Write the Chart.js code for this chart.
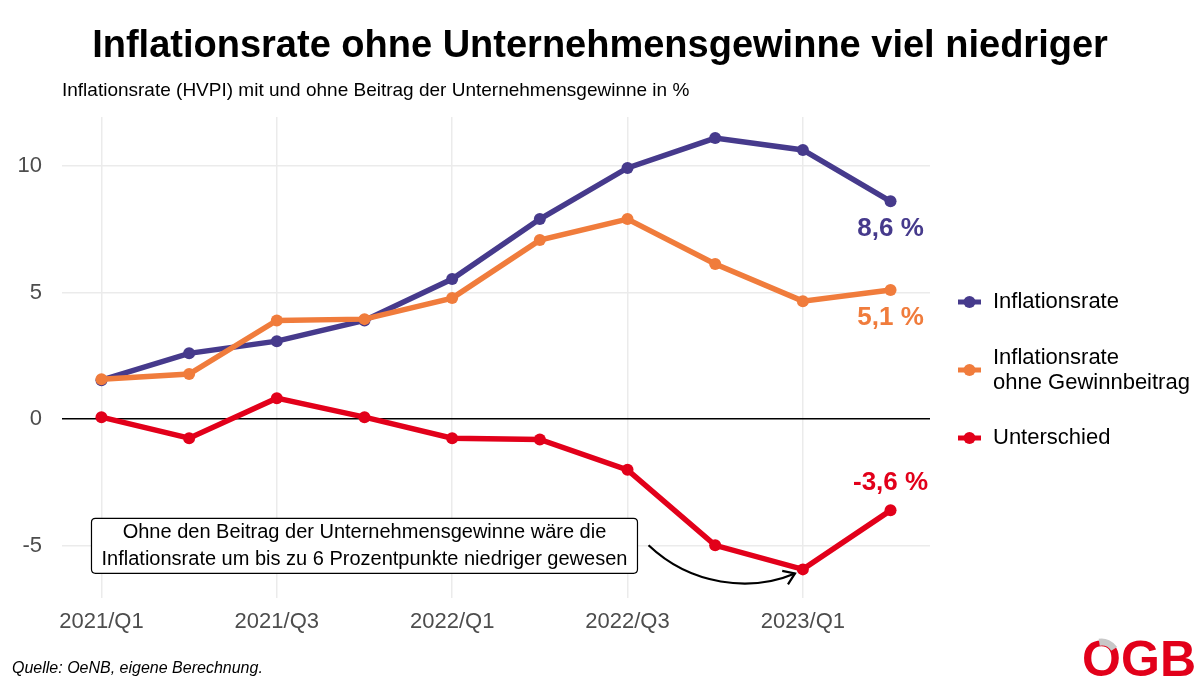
<!DOCTYPE html>
<html>
<head>
<meta charset="utf-8">
<script src="https://cdn.jsdelivr.net/npm/chart.js@4.4.1/dist/chart.umd.min.js"></script>
<style>
  html, body { margin: 0; padding: 0; background: #fff; }
  #wrap { width: 1200px; height: 686px; position: relative; }
</style>
</head>
<body>
<div id="wrap"><canvas id="chart" width="1200" height="686"></canvas></div>
<script>
// Daten
const quarters = ['2021/Q1', '2021/Q2', '2021/Q3', '2021/Q4', '2022/Q1', '2022/Q2', '2022/Q3', '2022/Q4', '2023/Q1', '2023/Q2'];
const inflation = [1.54, 2.6, 3.08, 3.9, 5.53, 7.9, 9.92, 11.1, 10.63, 8.6];
const ohneGewinn = [1.58, 1.78, 3.9, 3.95, 4.78, 7.07, 7.9, 6.13, 4.66, 5.1];
const unterschied = [0.08, -0.75, 0.83, 0.08, -0.75, -0.8, -2.0, -4.98, -5.93, -3.6];
const yTicks = [-5, 0, 5, 10];
const xTicks = [1, 3, 5, 7, 9];

const seriesNames = ['Inflationsrate', ['Inflationsrate', 'ohne Gewinnbeitrag'], 'Unterschied'];
const colors = ['#463a8c', '#f07c3c', '#e2001a'];

const FONT = '"Liberation Sans", Arial, sans-serif';

function toXY(arr) {
  return arr.map((v, i) => ({ x: i + 1, y: v }));
}

function fmt(v) {
  return v.toFixed(1).replace('.', ',') + ' %';
}

function roundRect(ctx, x, y, w, h, r) {
  ctx.beginPath();
  ctx.moveTo(x + r, y);
  ctx.lineTo(x + w - r, y);
  ctx.quadraticCurveTo(x + w, y, x + w, y + r);
  ctx.lineTo(x + w, y + h - r);
  ctx.quadraticCurveTo(x + w, y + h, x + w - r, y + h);
  ctx.lineTo(x + r, y + h);
  ctx.quadraticCurveTo(x, y + h, x, y + h - r);
  ctx.lineTo(x, y + r);
  ctx.quadraticCurveTo(x, y, x + r, y);
  ctx.closePath();
}

// Titel, Legende, Beschriftungen, Pfeil, Logo
const extras = {
  id: 'extras',
  afterDraw(chart) {
    const ctx = chart.ctx;
    const xs = chart.scales.x, ys = chart.scales.y;
    ctx.save();

    // Titel
    ctx.fillStyle = '#000';
    ctx.font = 'bold 38px ' + FONT;
    ctx.textAlign = 'center';
    ctx.textBaseline = 'alphabetic';
    ctx.fillText('Inflationsrate ohne Unternehmensgewinne viel niedriger', 600, 57);

    // Untertitel
    ctx.font = '19px ' + FONT;
    ctx.textAlign = 'left';
    ctx.fillText('Inflationsrate (HVPI) mit und ohne Beitrag der Unternehmensgewinne in %', 62, 96);

    // Quelle
    ctx.font = 'italic 16px ' + FONT;
    ctx.fillText('Quelle: OeNB, eigene Berechnung.', 12, 673);

    // Endwerte
    const last = quarters.length;
    const lx = xs.getPixelForValue(last);
    ctx.font = 'bold 26px ' + FONT;
    ctx.textAlign = 'center';
    ctx.textBaseline = 'middle';
    ctx.fillStyle = colors[0];
    ctx.fillText(fmt(inflation[last - 1]), lx, ys.getPixelForValue(inflation[last - 1] - 1.1));
    ctx.fillStyle = colors[1];
    ctx.fillText(fmt(ohneGewinn[last - 1]), lx, ys.getPixelForValue(ohneGewinn[last - 1] - 1.1));
    ctx.fillStyle = colors[2];
    ctx.fillText(fmt(unterschied[last - 1]), lx, ys.getPixelForValue(unterschied[last - 1] + 1.1));

    // Anmerkungsbox
    const bx = xs.getPixelForValue(4), by = ys.getPixelForValue(-5);
    const bw = 546, bh = 55;
    roundRect(ctx, bx - bw / 2, by - bh / 2, bw, bh, 4);
    ctx.fillStyle = '#fff';
    ctx.fill();
    ctx.lineWidth = 1.2;
    ctx.strokeStyle = '#000';
    ctx.stroke();
    ctx.fillStyle = '#000';
    ctx.font = '20px ' + FONT;
    ctx.fillText('Ohne den Beitrag der Unternehmensgewinne wäre die', bx, by - 13);
    ctx.fillText('Inflationsrate um bis zu 6 Prozentpunkte niedriger gewesen', bx, by + 14);

    // Pfeil
    const p0 = [xs.getPixelForValue(7.24), ys.getPixelForValue(-4.98)];
    const c1 = [xs.getPixelForValue(7.72), ys.getPixelForValue(-6.56)];
    const c2 = [xs.getPixelForValue(8.4), ys.getPixelForValue(-6.84)];
    const p3 = [xs.getPixelForValue(8.91), ys.getPixelForValue(-6.09)];
    ctx.beginPath();
    ctx.moveTo(p0[0], p0[1]);
    ctx.bezierCurveTo(c1[0], c1[1], c2[0], c2[1], p3[0], p3[1]);
    ctx.lineWidth = 2.2;
    ctx.stroke();
    const ang = Math.atan2(p3[1] - c2[1], p3[0] - c2[0]) + Math.PI;
    ctx.beginPath();
    ctx.moveTo(p3[0] + 13 * Math.cos(ang - 0.6), p3[1] + 13 * Math.sin(ang - 0.6));
    ctx.lineTo(p3[0], p3[1]);
    ctx.lineTo(p3[0] + 13 * Math.cos(ang + 0.6), p3[1] + 13 * Math.sin(ang + 0.6));
    ctx.stroke();

    // Legende
    const legendY = [302, 370, 438];
    ctx.font = '22px ' + FONT;
    ctx.textAlign = 'left';
    ctx.textBaseline = 'middle';
    seriesNames.forEach((name, i) => {
      const y = legendY[i];
      ctx.strokeStyle = colors[i];
      ctx.lineWidth = 5;
      ctx.beginPath();
      ctx.moveTo(958, y);
      ctx.lineTo(981, y);
      ctx.stroke();
      ctx.fillStyle = colors[i];
      ctx.beginPath();
      ctx.arc(969.5, y, 6, 0, Math.PI * 2);
      ctx.fill();
      ctx.fillStyle = '#000';
      if (Array.isArray(name)) {
        ctx.fillText(name[0], 993, y - 12);
        ctx.fillText(name[1], 993, y + 13);
      } else {
        ctx.fillText(name, 993, y);
      }
    });

    // Logo
    ctx.font = 'bold 50px ' + FONT;
    ctx.textAlign = 'right';
    ctx.textBaseline = 'alphabetic';
    ctx.fillStyle = '#e2001a';
    ctx.fillText('OGB', 1196, 676);
    const ow = ctx.measureText('OGB').width - ctx.measureText('GB').width;
    const ocx = 1196 - ctx.measureText('GB').width - ow / 2;
    ctx.strokeStyle = '#c8c8c8';
    ctx.lineWidth = 7;
    ctx.beginPath();
    ctx.arc(ocx, 657, 15, -Math.PI * 0.55, -Math.PI * 0.18);
    ctx.stroke();

    ctx.restore();
  }
};

new Chart(document.getElementById('chart'), {
  type: 'line',
  data: {
    labels: quarters,
    datasets: [
      { label: 'Inflationsrate ohne Gewinnbeitrag', data: toXY(ohneGewinn), borderColor: colors[1], backgroundColor: colors[1], order: 0 },
      { label: 'Inflationsrate', data: toXY(inflation), borderColor: colors[0], backgroundColor: colors[0], order: 1 },
      { label: 'Unterschied', data: toXY(unterschied), borderColor: colors[2], backgroundColor: colors[2], order: 2 },
    ].map(d => Object.assign(d, { borderWidth: 5.5, pointRadius: 6, pointHoverRadius: 6, pointBorderWidth: 0, tension: 0, fill: false }))
  },
  options: {
    responsive: false,
    animation: false,
    devicePixelRatio: 1,
    layout: { padding: { top: 117, right: 270, bottom: 48, left: 0 } },
    plugins: { legend: { display: false }, title: { display: false }, tooltip: { enabled: false } },
    scales: {
      x: {
        type: 'linear', min: 0.55, max: 10.45,
        afterBuildTicks: s => { s.ticks = xTicks.map(v => ({ value: v })); },
        afterFit: s => { s.height = 40; },
        ticks: { callback: v => quarters[v - 1], font: { size: 22, family: FONT }, color: '#4d4d4d', padding: 11, maxRotation: 0, autoSkip: false },
        grid: { color: '#ebebeb', lineWidth: 1.5, drawTicks: false },
        border: { display: false }
      },
      y: {
        min: -7.06, max: 11.93,
        afterBuildTicks: s => { s.ticks = yTicks.map(v => ({ value: v })); },
        afterFit: s => { s.width = 62; },
        ticks: { font: { size: 22, family: FONT }, color: '#4d4d4d', padding: 20 },
        grid: {
          color: c => c.tick && c.tick.value === 0 ? '#000' : '#ebebeb',
          lineWidth: 1.5, drawTicks: false
        },
        border: { display: false }
      }
    }
  },
  plugins: [extras]
});
</script>
</body>
</html>
